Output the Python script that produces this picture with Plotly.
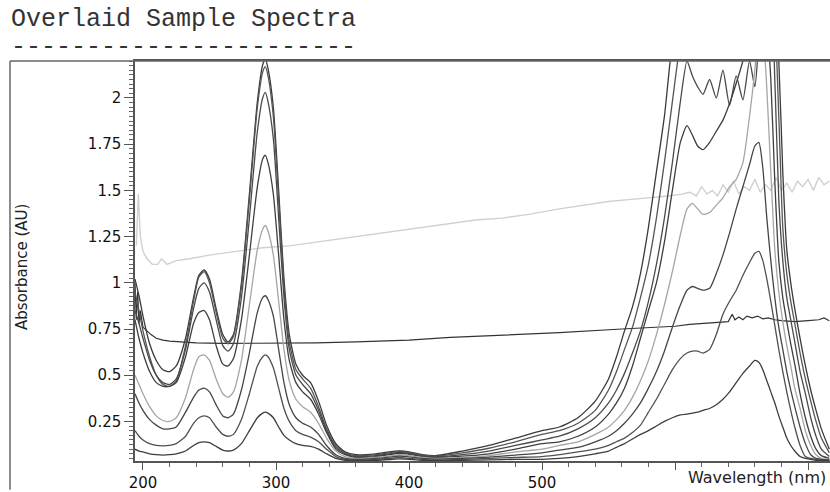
import plotly.graph_objects as go

# wavelength grid (nm) shared by the sample spectra
wavelength = [194, 197, 200, 205, 210, 215, 220, 225, 232, 238, 242, 246, 250, 255, 260, 264, 268, 274,
              280, 286, 290, 292, 294, 298, 302, 306, 310, 315, 320, 326, 332, 338, 345, 352, 360, 375,
              385, 393, 400, 410, 420, 440, 460, 480,
              500, 513, 527, 540, 550, 556, 562, 568, 574, 580, 586, 592, 598, 604, 609, 613, 617, 621,
              626, 631, 636, 641, 646, 651, 656, 660, 663, 666, 669, 672, 675, 678, 681, 684, 687, 690,
              694, 698, 702, 706, 710, 716]

sample_a = [1.02, .93, .82, .67, .58, .53, .52, .55, .70, .92, 1.04, 1.07, 1.02, .86, .72, .68, .72, 1.00,
            1.48, 1.98, 2.18, 2.21, 2.16, 1.95, 1.50, 1.02, .72, .56, .50, .46, .36, .23, .13, .085, .07, .075,
            .085, .09, .085, .07, .065, .09, .12, .16,
            .20, .22, .27, .36, .48, .60, .74, .87, 1.05, 1.30, 1.60, 1.90, 2.30, 2.50, 2.50, 2.50, 2.50, 2.50,
            2.50, 2.50, 2.50, 2.50, 2.50, 2.50, 2.50, 2.50, 2.50, 2.50, 2.50, 2.50, 2.50, 2.20, 1.60, 1.18, 1.00, .86,
            .70, .55, .42, .31, .21, .10]
sample_b = [.95, .85, .74, .60, .50, .45, .44, .47, .66, .90, 1.03, 1.06, 1.00, .84, .70, .67, .71, .98,
            1.45, 1.95, 2.14, 2.17, 2.12, 1.90, 1.45, .98, .68, .53, .48, .43, .33, .21, .12, .08, .065, .07,
            .08, .088, .082, .068, .062, .08, .105, .14,
            .18, .20, .24, .31, .42, .52, .64, .76, .92, 1.10, 1.35, 1.65, 1.98, 2.30, 2.45, 2.40, 2.30, 2.25,
            2.35, 2.40, 2.30, 2.45, 2.50, 2.50, 2.50, 2.50, 2.50, 2.50, 2.50, 2.50, 2.40, 1.90, 1.30, 1.05, .90, .78,
            .62, .48, .36, .25, .16, .08]
sample_c = [.85, .78, .70, .58, .50, .46, .45, .48, .64, .86, .97, 1.00, .95, .80, .66, .63, .67, .92,
            1.35, 1.82, 2.00, 2.03, 1.98, 1.78, 1.35, .92, .64, .50, .45, .40, .31, .20, .11, .075, .06, .065,
            .075, .083, .078, .064, .058, .07, .09, .12,
            .15, .17, .21, .27, .35, .42, .51, .62, .74, .90, 1.10, 1.35, 1.65, 1.98, 2.20, 2.12, 2.06, 2.02,
            2.10, 2.00, 2.15, 1.96, 2.12, 1.99, 2.20, 2.06, 2.30, 2.45, 2.50, 2.50, 2.10, 1.45, 1.12, .92, .80, .68,
            .52, .40, .27, .17, .10, .06]
sample_d = [.80, .70, .62, .52, .46, .44, .44, .46, .60, .78, .84, .85, .80, .66, .56, .55, .59, .80,
            1.15, 1.52, 1.67, 1.69, 1.65, 1.48, 1.15, .80, .58, .46, .41, .37, .29, .19, .10, .07, .055, .06,
            .07, .078, .072, .06, .055, .062, .075, .10,
            .13, .14, .17, .22, .29, .35, .43, .55, .70, .85, 1.00, 1.22, 1.50, 1.76, 1.85, 1.80, 1.74, 1.72,
            1.76, 1.82, 1.88, 1.97, 2.08, 2.20, 2.35, 2.45, 2.50, 2.50, 2.40, 2.10, 1.55, 1.12, .92, .79, .67, .56,
            .40, .27, .17, .10, .065, .05]
sample_e = [.50, .45, .40, .33, .28, .255, .25, .27, .38, .53, .60, .61, .58, .48, .40, .38, .41, .58,
            .88, 1.18, 1.29, 1.31, 1.28, 1.15, .90, .64, .47, .37, .33, .30, .24, .16, .09, .06, .05, .055,
            .062, .07, .065, .055, .05, .055, .065, .085,
            .10, .12, .14, .18, .22, .26, .31, .38, .47, .58, .72, .88, 1.06, 1.26, 1.40, 1.43, 1.40, 1.37,
            1.38, 1.42, 1.46, 1.52, 1.56, 1.65, 1.90, 2.15, 2.40, 2.35, 2.05, 1.60, 1.18, .95, .79, .66, .55, .43,
            .32, .20, .12, .07, .05, .045]
sample_f = [.40, .35, .31, .26, .23, .21, .21, .22, .30, .38, .42, .43, .41, .34, .28, .27, .29, .42,
            .62, .84, .92, .93, .91, .82, .64, .46, .34, .27, .24, .22, .18, .12, .07, .05, .045, .05,
            .057, .063, .058, .05, .046, .05, .057, .068,
            .08, .095, .11, .14, .17, .20, .24, .29, .35, .43, .52, .63, .76, .88, .96, .98, .97, .96,
            .97, 1.05, 1.15, 1.27, 1.40, 1.52, 1.64, 1.74, 1.76, 1.62, 1.35, 1.12, .92, .76, .64, .52, .42, .33,
            .22, .13, .07, .05, .045, .04]
sample_g = [.20, .17, .15, .13, .12, .118, .12, .13, .17, .24, .27, .28, .27, .22, .18, .17, .18, .26,
            .40, .55, .60, .61, .60, .54, .43, .32, .25, .20, .18, .165, .14, .10, .06, .045, .04, .045,
            .05, .055, .05, .045, .042, .045, .05, .055,
            .06, .07, .085, .10, .12, .14, .16, .19, .23, .30, .37, .45, .53, .59, .62, .63, .63, .62,
            .64, .72, .83, .90, .96, 1.04, 1.11, 1.16, 1.17, 1.12, 1.02, .90, .77, .64, .52, .41, .31, .22,
            .12, .06, .05, .045, .04, .04]
sample_h = [.10, .09, .085, .075, .07, .068, .07, .075, .09, .12, .135, .14, .135, .115, .095, .09, .095, .13,
            .20, .27, .295, .30, .295, .27, .22, .175, .15, .13, .12, .115, .10, .075, .05, .04, .038, .04,
            .044, .048, .045, .04, .038, .04, .042, .045,
            .045, .05, .06, .075, .09, .11, .13, .155, .18, .20, .225, .25, .27, .285, .29, .295, .30, .31,
            .32, .34, .37, .41, .46, .51, .55, .58, .57, .53, .47, .41, .35, .28, .22, .16, .12, .09,
            .06, .05, .045, .04, .04, .04]

# near-flat dark trace
flat_wl = [194, 195, 196, 197, 198, 200, 203, 206, 210, 215, 220, 230, 240, 260, 280, 300, 330, 360, 400,
           431, 470, 513, 560, 600, 611, 630, 640, 643, 645, 648, 651, 654, 658, 662, 666, 670, 675, 680,
           690, 700, 708, 712, 716]
flat_abs = [1.0, .80, .95, .78, .85, .76, .74, .72, .70, .69, .685, .68, .675, .672, .672, .672, .675, .68, .69,
            .705, .715, .73, .75, .765, .775, .785, .79, .83, .80, .815, .80, .82, .81, .82, .805, .81, .80, .795,
            .79, .795, .80, .81, .795]

# light grey drifting trace
grey_wl = [195, 196.5, 198, 200, 203, 207, 211, 214, 218, 225, 235, 250, 270, 290, 310, 330, 350, 370, 393,
           410, 430, 450, 470, 490, 513, 530, 550, 565, 581, 595, 605, 611, 616, 620, 624, 628, 632, 636,
           640, 644, 648, 652, 656, 660, 664, 668, 672, 676, 680, 684, 688, 692, 696, 700, 704, 708, 712, 716]
grey_abs = [1.20, 1.48, 1.25, 1.17, 1.13, 1.10, 1.10, 1.13, 1.10, 1.12, 1.13, 1.15, 1.17, 1.19, 1.20, 1.22,
            1.24, 1.26, 1.28, 1.30, 1.32, 1.34, 1.35, 1.37, 1.40, 1.42, 1.44, 1.45, 1.46, 1.47, 1.48, 1.49,
            1.47, 1.52, 1.48, 1.50, 1.47, 1.53, 1.49, 1.55, 1.48, 1.52, 1.50, 1.56, 1.49, 1.53, 1.50, 1.57,
            1.50, 1.54, 1.49, 1.55, 1.52, 1.56, 1.50, 1.57, 1.53, 1.55]

y_ticks = [0.25, 0.5, 0.75, 1, 1.25, 1.5, 1.75, 2]
y_labels = ["0.25", "0.5", "0.75", "1", "1.25", "1.5", "1.75", "2"]
x_ticks = [200, 300, 400, 500, 600, 700]
x_labels = ["200", "300", "400", "500", "", ""]

W, H = 830, 492
L, T, B = 135, 61, 29
plot_w, plot_h = W - L, H - T - B


def px_x(px):
    return (px - L) / plot_w


def px_y(py):
    return (H - B - py) / plot_h


fig = go.Figure()

fig.add_trace(go.Scatter(x=grey_wl, y=grey_abs, mode="lines",
                         line=dict(color="#d0d0d0", width=1.4)))
fig.add_trace(go.Scatter(x=flat_wl, y=flat_abs, mode="lines",
                         line=dict(color="#333333", width=1.2)))

spectra = [
    (sample_a, "#3a3a3a"),
    (sample_b, "#555555"),
    (sample_c, "#4a4a4a"),
    (sample_d, "#3f3f3f"),
    (sample_e, "#a5a5a5"),
    (sample_f, "#454545"),
    (sample_g, "#505050"),
    (sample_h, "#3d3d3d"),
]
for vals, col in spectra:
    fig.add_trace(go.Scatter(x=wavelength, y=vals, mode="lines",
                             line=dict(color=col, width=1.3, shape="spline", smoothing=0.6)))

tick_font = dict(family="DejaVu Sans", size=15, color="#111111")

fig.update_layout(
    width=W, height=H,
    margin=dict(l=L, r=0, t=T, b=B),
    paper_bgcolor="white", plot_bgcolor="white",
    showlegend=False,
    xaxis=dict(range=[194, 716.5], tickvals=x_ticks, ticktext=x_labels,
               showline=True, linecolor="#555555", linewidth=1.5, mirror=True,
               ticks="outside", ticklen=7, tickcolor="#555555", tickwidth=1.2,
               minor=dict(dtick=20, ticks="outside", ticklen=4, tickcolor="#666666"),
               showgrid=False, zeroline=False, tickfont=tick_font),
    yaxis=dict(range=[0.036, 2.2], tickvals=y_ticks, ticktext=y_labels,
               showline=True, linecolor="#555555", linewidth=1.5,
               ticks="outside", ticklen=9, tickcolor="#555555", tickwidth=1.2,
               minor=dict(dtick=0.025, ticks="outside", ticklen=4, tickcolor="#666666"),
               showgrid=False, zeroline=False, tickfont=tick_font),
)

# outer frame
frame = dict(color="#666666", width=1.5)
fig.add_shape(type="line", xref="paper", yref="paper", x0=px_x(10), x1=1, y0=1, y1=1, line=frame)
fig.add_shape(type="line", xref="paper", yref="paper", x0=px_x(10), x1=px_x(10), y0=1, y1=px_y(H),
              line=frame)

mono = dict(family="Liberation Mono", size=25, color="#333333")
fig.add_annotation(text="Overlaid Sample Spectra", xref="paper", yref="paper",
                   x=px_x(9), y=px_y(19), xanchor="left", yanchor="middle", showarrow=False, font=mono)
fig.add_annotation(text="-" * 23, xref="paper", yref="paper",
                   x=px_x(9), y=px_y(47), xanchor="left", yanchor="middle", showarrow=False, font=mono)

fig.add_annotation(text="Absorbance (AU)", xref="paper", yref="paper", textangle=-90,
                   x=px_x(22), y=px_y(268), xanchor="center", yanchor="middle", showarrow=False,
                   font=dict(family="DejaVu Sans", size=15, color="#222222"))
fig.add_annotation(text="Wavelength (nm)", xref="paper", yref="paper",
                   x=px_x(686), y=px_y(480), xanchor="left", yanchor="middle", showarrow=False,
                   font=dict(family="DejaVu Sans", size=16, color="#222222"))

# the page body has a default margin; drop it so the figure sits at the window origin
fig.write_html("out.html", config={"displayModeBar": False},
               post_script="document.body.style.margin='0px';")
